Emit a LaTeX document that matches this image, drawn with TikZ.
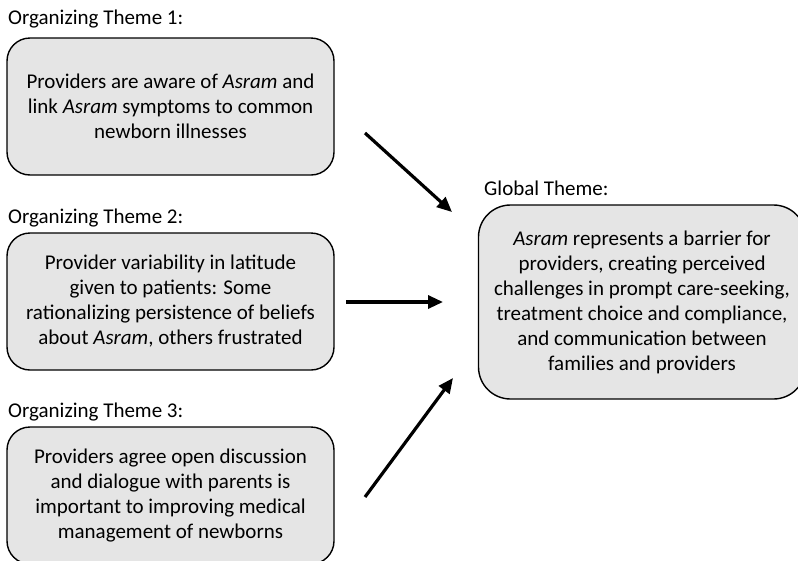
\documentclass[tikz,border=0pt]{standalone}
\usepackage{fontspec}
\setmainfont{Carlito}
\usetikzlibrary{arrows.meta}

\tikzset{
  themebox/.style={draw=black, line width=1.4pt, fill=gray!20, align=center,
    inner sep=0pt, minimum width=327pt, minimum height=137pt, rounded corners=23pt,
    font=\fontsize{21}{25}\selectfont},
  heading/.style={anchor=base west, inner sep=0pt, font=\fontsize{21}{25}\selectfont},
  link/.style={line width=3.2pt, -{Triangle[length=15pt,width=13pt]}}
}

\begin{document}
\begin{tikzpicture}[x=1pt,y=-1pt]
\useasboundingbox (0,0) rectangle (798,560);

% Organizing theme 1
\node[heading] (h1) at (8,24) {Organizing Theme 1:};
\node[themebox] (aware) at (170.5,106.5)
  {Providers are aware of \textit{Asram} and\\link \textit{Asram} symptoms to common\\newborn illnesses};

% Organizing theme 2
\node[heading] (h2) at (8,223) {Organizing Theme 2:};
\node[themebox] (latitude) at (170.5,301.5)
  {Provider variability in latitude\\given to patients: Some\\rationalizing persistence of beliefs\\about \textit{Asram}, others frustrated};

% Organizing theme 3
\node[heading] (h3) at (8,417) {Organizing Theme 3:};
\node[themebox] (dialogue) at (170.5,495.5)
  {Providers agree open discussion\\and dialogue with parents is\\important to improving medical\\management of newborns};

% Global theme
\node[heading] (hg) at (484,195) {Global Theme:};
\node[themebox, minimum width=327pt, minimum height=194pt, rounded corners=32pt] (barrier) at (642,302)
  {\textit{Asram} represents a barrier for\\providers, creating perceived\\challenges in prompt care-seeking,\\treatment choice and compliance,\\and communication between\\families and providers};

% Arrow ends
\coordinate (s1) at (365,133);
\coordinate (t1) at (452,212);
\coordinate (s2) at (346,302);
\coordinate (t2) at (443,302);
\coordinate (s3) at (365,497);
\coordinate (t3) at (453,378);

\draw[link] (s1) -- (t1);
\draw[link] (s2) -- (t2);
\draw[link] (s3) -- (t3);
\end{tikzpicture}
\end{document}
